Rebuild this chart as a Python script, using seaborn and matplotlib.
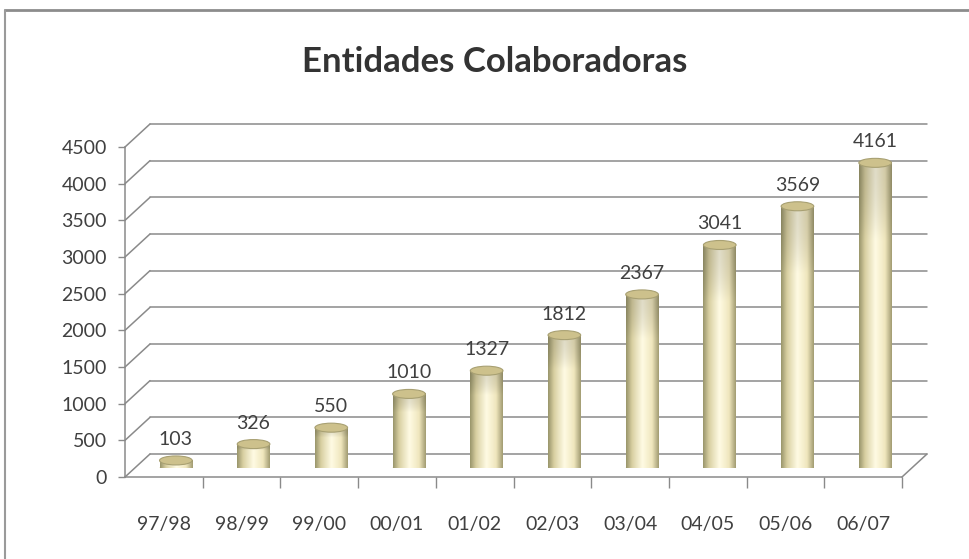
import matplotlib
matplotlib.use("Agg")
import matplotlib.pyplot as plt
from matplotlib.colors import LinearSegmentedColormap
from matplotlib.lines import Line2D
from matplotlib.patches import Ellipse
import numpy as np
import pandas as pd
import seaborn as sns

#################### DATA ####################
seasons = ["97/98", "98/99", "99/00", "00/01", "01/02",
           "02/03", "03/04", "04/05", "05/06", "06/07"]
entidades = [103, 326, 550, 1010, 1327, 1812, 2367, 3041, 3569, 4161]
yticks = list(range(0, 4501, 500))

#################### CONFIG ####################
sns.set_style("white")
plt.rcParams["font.family"] = ["Lato", "DejaVu Sans"]
TXT = "#404040"
GRID = "#8a8a8a"

W, H = 970, 559
fig = plt.figure(figsize=(W / 100, H / 100), dpi=100)


def box(x0, y_top, x1, y_bot):
    # pixel box -> figure fraction [left, bottom, width, height]
    return [x0 / W, 1 - y_bot / H, (x1 - x0) / W, (y_bot - y_top) / H]


FRONT = (125, 147, 902, 477)
DEPTH = (25, 23)     # back wall offset, px
BAR_OFF = (12, 9)    # bars sit halfway into the depth

ax = fig.add_axes(box(*FRONT))
ax_bar = fig.add_axes(box(FRONT[0] + BAR_OFF[0], FRONT[1] - BAR_OFF[1],
                          FRONT[2] + BAR_OFF[0], FRONT[3] - BAR_OFF[1]))
for a in (ax, ax_bar):
    a.set_xlim(-0.5, len(seasons) - 0.5)
    a.set_ylim(0, 4500)
    a.patch.set_alpha(0)

# data units per pixel
dx = len(seasons) / (FRONT[2] - FRONT[0]) * DEPTH[0]
dy = 4500 / (FRONT[3] - FRONT[1]) * DEPTH[1]

#################### walls / grid ####################
x_lo, x_hi = -0.5, len(seasons) - 0.5
for v in yticks:
    ax.plot([x_lo + dx, x_hi + dx], [v + dy, v + dy], color=GRID, lw=1.1,
            clip_on=False, zorder=0)
    ax.plot([x_lo, x_lo + dx], [v, v + dy], color=GRID, lw=1.1,
            clip_on=False, zorder=0)
ax.plot([x_hi, x_hi + dx], [0, dy], color=GRID, lw=1.1, clip_on=False, zorder=0)

sns.despine(ax=ax, top=True, right=True)
for s in ("left", "bottom"):
    ax.spines[s].set_color(GRID)
    ax.spines[s].set_linewidth(1.1)
ax.set_yticks(yticks)
ax.set_yticklabels([str(v) for v in yticks], color=TXT, fontsize=14)
ax.tick_params(axis="y", length=5, width=1, color=GRID, pad=8, left=True)
ax.set_xticks(range(len(seasons)))
ax.set_xticklabels(seasons, color=TXT, fontsize=14)
ax.tick_params(axis="x", which="major", length=0, pad=28)
ax.set_xticks(np.arange(0.5, len(seasons) - 0.5 + 1e-9, 1.0), minor=True)
ax.tick_params(axis="x", which="minor", length=8, width=1, color=GRID,
               bottom=True)
ax.set_xlabel("")
ax.set_ylabel("")

#################### cylinders ####################
df = pd.DataFrame({"season": seasons, "n": entidades})
sns.barplot(data=df, x="season", y="n", ax=ax_bar, width=0.42,
            color="#F3EBC8", saturation=1)
ax_bar.axis("off")

cyl = LinearSegmentedColormap.from_list(
    "cyl", [(0.0, "#9a966c"), (0.18, "#d9d0a2"), (0.5, "#fffbe4"),
            (0.8, "#efe6bd"), (1.0, "#a39d73")])
grad = cyl(np.linspace(0, 1, 64))[None, :, :3]
ell_h = 4500 / (FRONT[3] - FRONT[1]) * 9

for p, v in zip(list(ax_bar.patches), entidades):
    x0, w = p.get_x(), p.get_width()
    p.set_facecolor("none")
    p.set_edgecolor("none")
    # softer, darker khaki towards the top of each cylinder
    rows = 60
    t = np.linspace(0, 1, rows)
    shade = np.where(t < 0.25, 0.88 + 0.12 * (t / 0.25) ** 2, 1.0)
    img = np.clip(grad * shade[:, None, None], 0, 1)
    ax_bar.add_patch(Ellipse((x0 + w / 2, 0), w, ell_h, facecolor="#e6dcaa",
                             edgecolor="none", zorder=1))
    ax_bar.imshow(img, extent=[x0, x0 + w, 0, v], aspect="auto",
                  origin="upper", zorder=2, interpolation="bilinear")
    ax_bar.add_patch(Ellipse((x0 + w / 2, v), w, ell_h, facecolor="#cdc18c",
                             edgecolor="#a8a072", lw=0.8, zorder=3))
    ax_bar.annotate(str(v), (x0 + w / 2, v), xytext=(0, 9),
                    textcoords="offset points", ha="center", va="bottom",
                    color=TXT, fontsize=14, annotation_clip=False)

ax_bar.set_xlim(-0.5, len(seasons) - 0.5)
ax_bar.set_ylim(0, 4500)

#################### title / frame ####################
fig.text(495 / W, 1 - 62 / H, "Entidades Colaboradoras", ha="center",
         va="center", fontsize=25, fontweight="bold", color="#333333")
fig.add_artist(Line2D([5 / W, 1], [1 - 10 / H, 1 - 10 / H],
                      transform=fig.transFigure, color="#8c8c8c", lw=2))
fig.add_artist(Line2D([5 / W, 5 / W], [0, 1 - 10 / H],
                      transform=fig.transFigure, color="#9a9a9a", lw=1.5))

fig.savefig("out.png", dpi=100, facecolor="white")
